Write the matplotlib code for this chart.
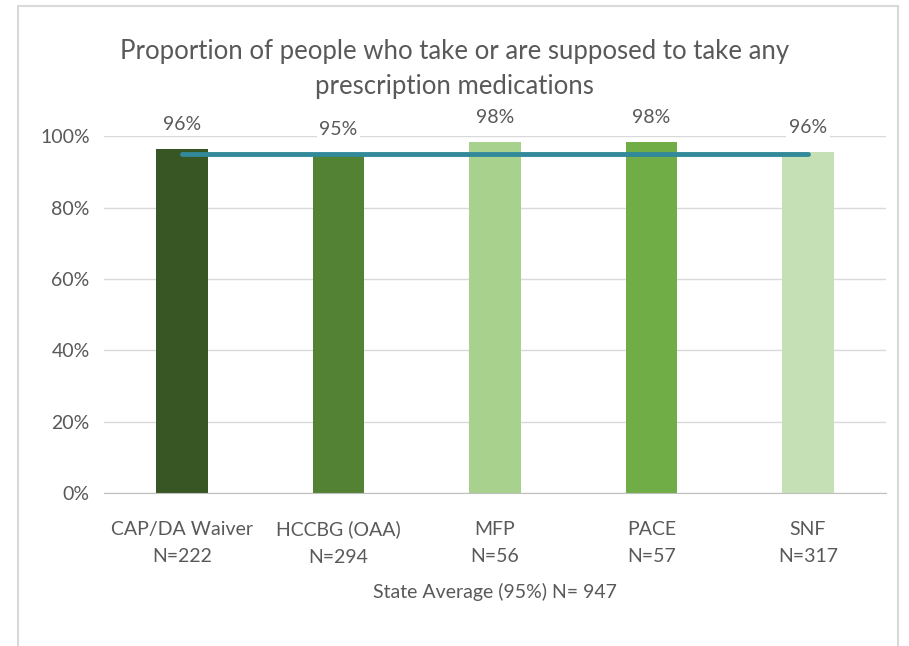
import matplotlib
matplotlib.use('Agg')

import matplotlib.pyplot as plt
from matplotlib.patches import Rectangle
from matplotlib.ticker import PercentFormatter

plt.rcParams['font.family'] = ['Lato', 'DejaVu Sans']

# data
programs = ["CAP/DA Waiver", "HCCBG (OAA)", "MFP", "PACE", "SNF"]
sample_n = [222, 294, 56, 57, 317]
proportion = [96.4, 95.0, 98.3, 98.3, 95.5]
bar_labels = ["96%", "95%", "98%", "98%", "96%"]
state_avg = 95.0
state_n = 947
colors = ["#375623", "#548235", "#A9D18E", "#70AD47", "#C5E0B4"]

text_color = "#595959"

fig = plt.figure(figsize=(9.09, 6.46), dpi=100)
ax = fig.add_axes([0.114, 0.237, 0.861, 0.552])

# outer chart border like the excel chart area
fig.patches.append(Rectangle((18 / 909, -0.01), 880 / 909, 1 - 6 / 646 + 0.01,
                             transform=fig.transFigure, fill=False,
                             edgecolor="#D9D9D9", linewidth=1.5))

x = list(range(len(programs)))
ax.bar(x, proportion, width=0.33, color=colors, zorder=2)
ax.plot([x[0], x[-1]], [state_avg, state_avg], color="#31899A",
        linewidth=3.5, solid_capstyle='round', zorder=3)

for xi, v, lab in zip(x, proportion, bar_labels):
    ax.text(xi, v + 4.5, lab, ha='center', va='bottom', fontsize=14,
            color=text_color, zorder=4,
            bbox=dict(facecolor='white', edgecolor='none', pad=2))

ax.set_xlim(-0.5, 4.5)
ax.set_ylim(0, 100)
ax.set_yticks([0, 20, 40, 60, 80, 100])
ax.yaxis.set_major_formatter(PercentFormatter(decimals=0))
ax.set_xticks(x)
ax.set_xticklabels([f"{p}\nN={n}" for p, n in zip(programs, sample_n)],
                   linespacing=1.75)
ax.tick_params(axis='both', length=0, labelsize=14, labelcolor=text_color)
ax.tick_params(axis='x', pad=20)
ax.tick_params(axis='y', pad=10)

ax.grid(axis='y', color="#D9D9D9", linewidth=1, zorder=0)
for s in ['top', 'right', 'left']:
    ax.spines[s].set_visible(False)
ax.spines['bottom'].set_color("#BFBFBF")
ax.set_axisbelow(True)

ax.set_xlabel(f"State Average ({state_avg:.0f}%) N= {state_n}", fontsize=14,
              color=text_color, labelpad=12)
fig.text(0.5, 0.893,
         "Proportion of people who take or are supposed to take any\nprescription medications",
         ha='center', va='center', fontsize=18.5, color=text_color, linespacing=1.5)

fig.savefig("out.png", dpi=100)
